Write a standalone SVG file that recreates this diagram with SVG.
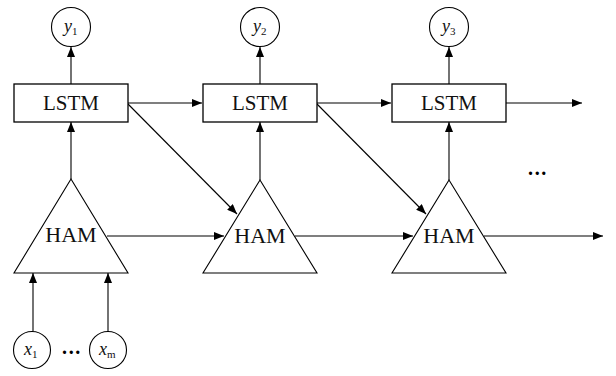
<svg xmlns="http://www.w3.org/2000/svg" width="616" height="376" viewBox="0 0 616 376">
<defs>
<marker id="ah" markerWidth="10" markerHeight="8" refX="10" refY="4" orient="auto" markerUnits="userSpaceOnUse">
<path d="M0,0 L10,4 L0,8 Z" fill="#000"/>
</marker>
<style>
.box{fill:#fff;stroke:#000;stroke-width:1.3}
.shape{fill:#fff;stroke:#000;stroke-width:1.1}
.lbl{font-size:21px;fill:#111;text-anchor:middle}
.ham{font-size:22px}
.var{font-style:italic;font-size:18px;fill:#111}
.sub{font-size:11px;font-style:normal}
.dots{font-size:20px;font-weight:bold;fill:#000;text-anchor:middle;letter-spacing:1.7px}
.c{fill:none;stroke:#000;stroke-width:1.1;marker-end:url(#ah)}
</style>
</defs>
<rect width="616" height="376" fill="#fff"/>
<g id="connectors">
<line class="c" x1="71" y1="84" x2="71" y2="47"/>
<line class="c" x1="260" y1="84" x2="260" y2="47"/>
<line class="c" x1="449" y1="84" x2="449" y2="47"/>
<line class="c" x1="128" y1="103" x2="202" y2="103"/>
<line class="c" x1="317" y1="103" x2="391" y2="103"/>
<line class="c" x1="506" y1="103" x2="582" y2="103"/>
<line class="c" x1="71" y1="179" x2="71" y2="122"/>
<line class="c" x1="260" y1="180" x2="260" y2="122"/>
<line class="c" x1="449" y1="180" x2="449" y2="122"/>
<line class="c" x1="128" y1="104" x2="237" y2="214"/>
<line class="c" x1="317" y1="104" x2="426" y2="214"/>
<line class="c" x1="107" y1="236" x2="224" y2="236"/>
<line class="c" x1="295" y1="236" x2="413" y2="236"/>
<line class="c" x1="484" y1="236" x2="603" y2="236"/>
<line class="c" x1="33" y1="331" x2="33" y2="273"/>
<line class="c" x1="108" y1="331" x2="108" y2="273"/>
</g>
<g font-family="'Liberation Serif', 'DejaVu Serif', serif">
<g id="y1"><circle class="shape" cx="71" cy="27" r="19.5"/><text class="var" x="64" y="32">y<tspan class="sub" dy="3">1</tspan></text></g>
<g id="y2"><circle class="shape" cx="260" cy="27" r="19.5"/><text class="var" x="253" y="32">y<tspan class="sub" dy="3">2</tspan></text></g>
<g id="y3"><circle class="shape" cx="449" cy="27" r="19.5"/><text class="var" x="442" y="32">y<tspan class="sub" dy="3">3</tspan></text></g>
<g id="lstm1"><rect class="box" x="14" y="84" width="114" height="38"/><text class="lbl" x="71" y="110">LSTM</text></g>
<g id="lstm2"><rect class="box" x="203" y="84" width="114" height="38"/><text class="lbl" x="260" y="110">LSTM</text></g>
<g id="lstm3"><rect class="box" x="392" y="84" width="114" height="38"/><text class="lbl" x="449" y="110">LSTM</text></g>
<g id="ham1"><polygon class="shape" points="71,179 14,273 128,273"/><text class="lbl ham" x="71" y="242">HAM</text></g>
<g id="ham2"><polygon class="shape" points="260,180 203,273 317,273"/><text class="lbl ham" x="260" y="243">HAM</text></g>
<g id="ham3"><polygon class="shape" points="449,180 392,273 506,273"/><text class="lbl ham" x="449" y="243">HAM</text></g>
<g id="x1"><circle class="shape" cx="32" cy="350" r="18.5"/><text class="var" x="24" y="355">x<tspan class="sub" dy="3">1</tspan></text></g>
<g id="xm"><circle class="shape" cx="108" cy="350" r="18.5"/><text class="var" x="99" y="355">x<tspan class="sub" dy="3" font-style="italic">m</tspan></text></g>
<text class="dots" x="72" y="354">...</text>
<text class="dots" x="538" y="175">...</text>
</g>
</svg>
